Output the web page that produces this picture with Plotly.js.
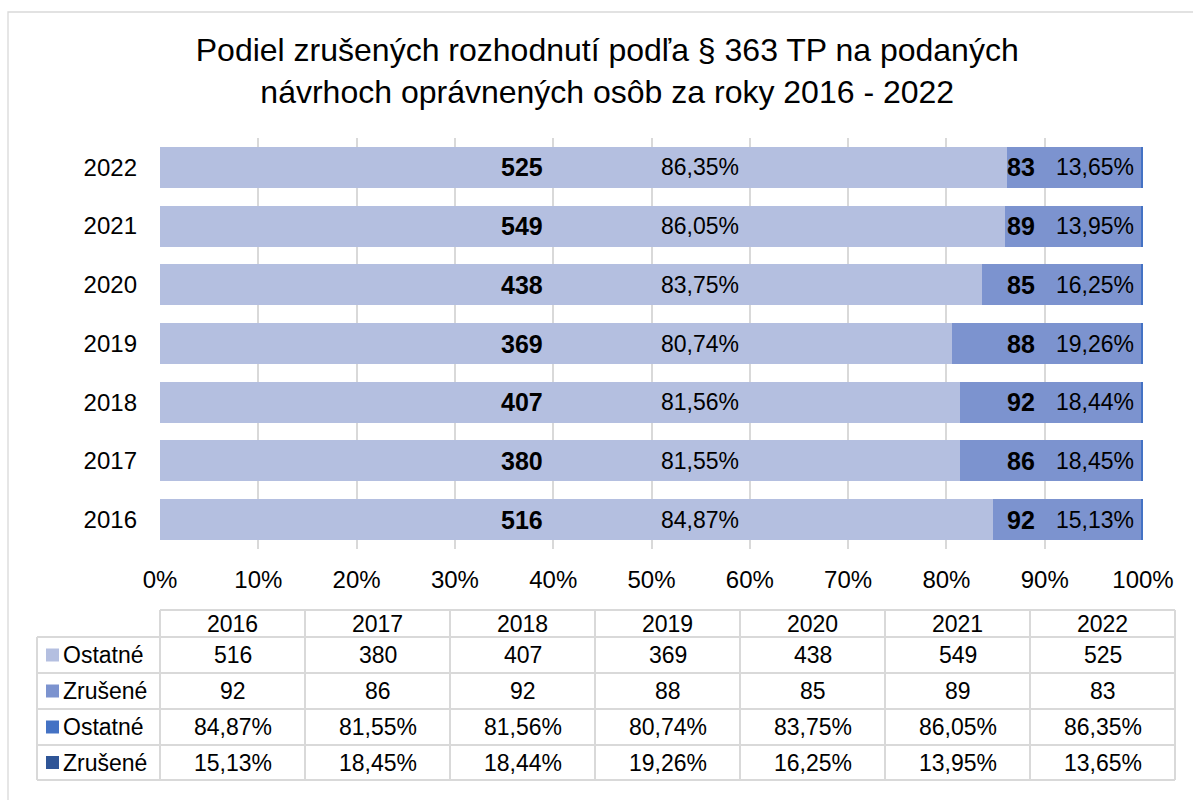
<!DOCTYPE html>
<html>
<head>
<meta charset="utf-8">
<script src="https://cdn.plot.ly/plotly-3.0.1.min.js"></script>
<style>html,body{margin:0;padding:0;background:#fff;}#chart{width:1193px;height:800px;}</style>
</head>
<body>
<div id="chart"></div>
<script>
// ---- data ----
const years = ['2016','2017','2018','2019','2020','2021','2022'];
const ostatneCount = [516, 380, 407, 369, 438, 549, 525];
const zruseneCount = [92, 86, 92, 88, 85, 89, 83];
const ostatnePct = [84.87, 81.55, 81.56, 80.74, 83.75, 86.05, 86.35];
const zrusenePct = [15.13, 18.45, 18.44, 19.26, 16.25, 13.95, 13.65];
const seriesNames = ['Ostatné', 'Zrušené', 'Ostatné', 'Zrušené'];
const xTicks = [0,10,20,30,40,50,60,70,80,90,100];
const titleText = 'Podiel zrušených rozhodnutí podľa § 363 TP na podaných<br>návrhoch oprávnených osôb za roky 2016 - 2022';

const colors = ['#b4bfe0', '#7c93cf', '#4472c4', '#2f5597'];
const fmtPct = v => v.toFixed(2).replace('.', ',') + '%';

// ---- geometry (pixels) ----
const W = 1193, H = 800;
const mL = 160, mR = 50, mT = 138, mB = 251;
const pw = W - mL - mR, ph = H - mT - mB;
const px = x => (x - mL) / pw;
const py = y => (H - mB - y) / ph;
const FONT = 'Liberation Sans, Arial, sans-serif';

const traces = [
  {name: seriesNames[0], y: years, x: ostatneCount},
  {name: seriesNames[1], y: years, x: zruseneCount},
  {name: seriesNames[2], y: years, x: ostatnePct.map(v => v / 100)},
  {name: seriesNames[3], y: years, x: zrusenePct.map(v => v / 100)}
].map((t, i) => Object.assign(t, {
  type: 'bar', orientation: 'h', marker: {color: colors[i], line: {width: 0}},
  hoverinfo: 'skip', showlegend: false
}));

const annotations = [];
const shapes = [];
const ann = o => annotations.push(Object.assign({showarrow: false, xanchor: 'center', yanchor: 'middle'}, o));

// bar labels (category index on y)
years.forEach((yr, i) => {
  ann({x: 36.8, y: i, xref: 'x', yref: 'y', text: '<b>' + ostatneCount[i] + '</b>',
    font: {family: FONT, size: 25, color: '#000'}});
  ann({x: 54.9, y: i, xref: 'x', yref: 'y', text: fmtPct(ostatnePct[i]),
    font: {family: FONT, size: 23, color: '#000'}});
  ann({x: 87.6, y: i, xref: 'x', yref: 'y', text: '<b>' + zruseneCount[i] + '</b>',
    font: {family: FONT, size: 25, color: '#000'}});
  ann({x: 95.1, y: i, xref: 'x', yref: 'y', text: fmtPct(zrusenePct[i]),
    font: {family: FONT, size: 23, color: '#000'}});
});

// outer frame
shapes.push({type: 'rect', xref: 'paper', yref: 'paper', x0: px(8), y0: py(12), x1: px(1210), y1: py(820),
  line: {color: '#d9d9d9', width: 1.3}, fillcolor: 'rgba(0,0,0,0)', layer: 'below'});

// data table
const colW = 145, tLeft = 160, legLeft = 37;
const rowB = [610, 637, 673, 709, 745, 780];
const gridC = '#d9d9d9';
const line = (x0, y0, x1, y1) => shapes.push({type: 'line', xref: 'paper', yref: 'paper',
  x0: px(x0), y0: py(y0), x1: px(x1), y1: py(y1), line: {color: gridC, width: 2}});
const tRight = tLeft + colW * years.length;
line(tLeft, rowB[0], tRight, rowB[0]);
for (let r = 1; r < rowB.length; r++) line(legLeft, rowB[r], tRight, rowB[r]);
line(legLeft, rowB[1], legLeft, rowB[5]);
for (let c = 0; c <= years.length; c++) line(tLeft + c * colW, rowB[0], tLeft + c * colW, rowB[5]);

const rows = [
  ostatneCount.map(String),
  zruseneCount.map(String),
  ostatnePct.map(fmtPct),
  zrusenePct.map(fmtPct)
];
years.forEach((yr, c) => {
  const cx = tLeft + (c + 0.5) * colW;
  ann({x: px(cx), y: py((rowB[0] + rowB[1]) / 2), xref: 'paper', yref: 'paper', text: yr,
    font: {family: FONT, size: 23, color: '#000'}});
  rows.forEach((row, r) => {
    ann({x: px(cx), y: py((rowB[r + 1] + rowB[r + 2]) / 2), xref: 'paper', yref: 'paper', text: row[c],
      font: {family: FONT, size: 23, color: '#000'}});
  });
});
seriesNames.forEach((nm, r) => {
  const cy = (rowB[r + 1] + rowB[r + 2]) / 2;
  shapes.push({type: 'rect', xref: 'paper', yref: 'paper', x0: px(46), x1: px(59), y0: py(cy - 6.5), y1: py(cy + 6.5),
    fillcolor: colors[r], line: {width: 0}});
  ann({x: px(61), y: py(cy), xref: 'paper', yref: 'paper', xanchor: 'left', text: nm,
    font: {family: FONT, size: 23, color: '#000'}});
});

const layout = {
  width: W, height: H,
  margin: {l: mL, r: mR, t: mT, b: mB, pad: 0},
  paper_bgcolor: '#fff', plot_bgcolor: '#fff',
  barmode: 'stack', barnorm: 'percent', bargap: 0.3,
  title: {text: titleText, x: 0.509, xanchor: 'center', y: 1 - 61 / 800, yanchor: 'middle', yref: 'container',
    font: {family: FONT, size: 32, color: '#000'}},
  xaxis: {range: [0, 100], tickvals: xTicks, ticktext: xTicks.map(v => v + '%'),
    showgrid: true, gridcolor: '#d9d9d9', gridwidth: 2, zeroline: false, showline: false,
    ticks: '', ticklabelstandoff: 14, tickfont: {family: FONT, size: 24, color: '#000'}, fixedrange: true},
  yaxis: {type: 'category', categoryorder: 'array', categoryarray: years, range: [-0.5, years.length - 0.5],
    showgrid: false, zeroline: false, showline: false, ticks: '', ticklabelstandoff: 22,
    tickfont: {family: FONT, size: 24, color: '#000'}, fixedrange: true},
  shapes: shapes,
  annotations: annotations,
  showlegend: false
};

Plotly.newPlot('chart', traces, layout, {displayModeBar: false, staticPlot: true});
</script>
</body>
</html>
